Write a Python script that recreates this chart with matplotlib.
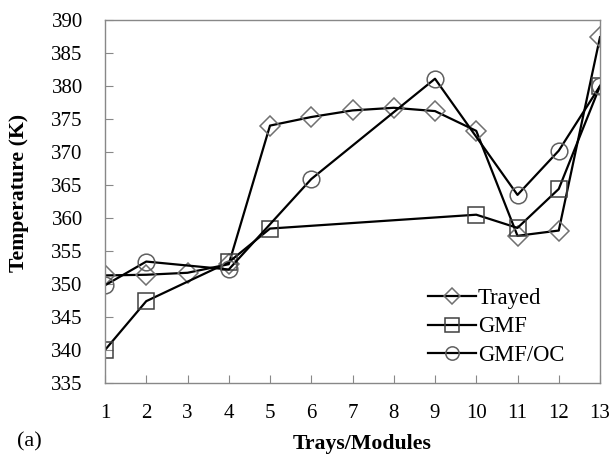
import matplotlib
matplotlib.use("Agg")
import matplotlib.pyplot as plt

plt.rcParams['font.family'] = ['Liberation Serif', 'DejaVu Serif']

trayed_x = [1, 2, 3, 4, 5, 6, 7, 8, 9, 10, 11, 12, 13]
trayed_y = [351.3, 351.4, 351.7, 353.0, 374.0, 375.3, 376.3, 376.7, 376.2, 373.2, 357.3, 358.1, 387.4]

gmf_x = [1, 2, 4, 5, 10, 11, 12, 13]
gmf_y = [340.0, 347.4, 353.3, 358.4, 360.5, 358.5, 364.4, 380.0]

oc_x = [1, 2, 4, 6, 9, 11, 12, 13]
oc_y = [349.8, 353.4, 352.2, 365.9, 381.1, 363.5, 370.2, 380.0]

xticks = list(range(1, 14))
yticks = list(range(335, 391, 5))

fig = plt.figure(figsize=(6.13, 4.54), dpi=100)
ax = fig.add_axes([105/613, 1 - 383/454, 495/613, 363/454])

ax.plot(trayed_x, trayed_y, color='black', lw=1.6, marker='D', ms=10,
        mfc='none', mec='#707070', mew=1.1, label='Trayed')
ax.plot(gmf_x, gmf_y, color='black', lw=1.6, marker='s', ms=12,
        mfc='none', mec='#404040', mew=1.1, label='GMF')
ax.plot(oc_x, oc_y, color='black', lw=1.6, marker='o', ms=12,
        mfc='none', mec='#606060', mew=1.1, label='GMF/OC')

ax.set_xlim(1, 13)
ax.set_ylim(335, 390)
ax.set_xticks(xticks)
ax.set_yticks(yticks)
ax.tick_params(direction='in', length=6, color='#888888', labelsize=15)
ax.tick_params(axis='y', pad=16)
ax.tick_params(axis='x', pad=15)
for s in ax.spines.values():
    s.set_color('#888888')
    s.set_linewidth(1.0)

fig.text(19/613, 1 - 193/454, 'Temperature (K)', fontsize=15.7, fontweight='bold',
         rotation=90, ha='center', va='center')
fig.text(362/613, 1 - 444/454, 'Trays/Modules', fontsize=15.7, fontweight='bold',
         ha='center', va='center')
fig.text(17/613, 1 - 442/454, '(a)', fontsize=16, ha='left', va='center')

leg = fig.legend(loc='center left', bbox_to_anchor=(428/613, 1 - 327/454),
                 frameon=False, fontsize=16.3, handlelength=2.1, handletextpad=0.1,
                 labelspacing=0.34, borderaxespad=0, borderpad=0, markerscale=0.8)

fig.savefig('out.png', dpi=100)
